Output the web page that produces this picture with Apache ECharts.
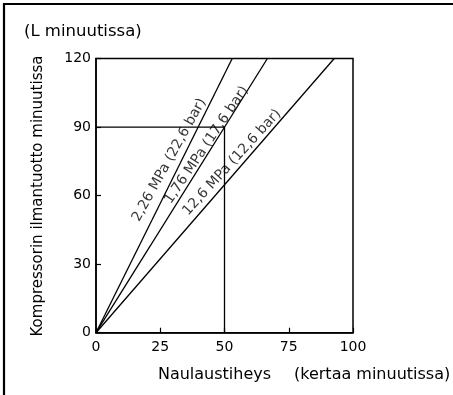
<!DOCTYPE html>
<html>
<head>
<meta charset="utf-8">
<script src="https://cdn.jsdelivr.net/npm/echarts@6/dist/echarts.min.js"></script>
<style>
  html, body { margin: 0; padding: 0; background: #fff; }
  #chart { width: 453px; height: 395px; }
</style>
</head>
<body>
<div id="chart"></div>
<script>
// Nailing rate (times per minute) vs. compressor air delivery (L per minute)
const pressureLabels = ['2,26 MPa (22,6 bar)', '1,76 MPa (17,6 bar)', '12,6 MPa (12,6 bar)'];
// each pressure line: start and end point [nails/min, L/min]
const line226 = [[0, 0], [53, 120]];
const line176 = [[0, 0], [66.7, 120]];
const line126 = [[0, 0], [92.7, 120]];
// reading example: 50 nails/min at 1,76 MPa needs 90 L/min
const exampleGuide = [[0, 90], [50, 90], [50, 0]];
// label anchor points (data coords) and angles for the pressure captions
const labelAnchors = [[28.5, 75.6], [43.0, 82.1], [52.9, 74.5]];
const labelAngles = [61, 56, 47.5];

const xTicks = [0, 25, 50, 75, 100];
const yTicks = [0, 30, 60, 90, 120];

const yTitle = 'Kompressorin ilmantuotto minuutissa';
const yUnit = '(L minuutissa)';
const xTitle = 'Naulaustiheys';
const xUnit = '(kertaa minuutissa)';

const FONT = 'DejaVu Sans';
const chart = echarts.init(document.getElementById('chart'), null, { renderer: 'canvas' });

const lineStyle = { color: '#000', width: 1.3 };
const lineSeries = [line226, line176, line126].map(function (d) {
  return {
    type: 'line', data: d, symbol: 'none', silent: true,
    lineStyle: lineStyle, z: 3
  };
});

chart.setOption({
  animation: false,
  backgroundColor: '#fff',
  grid: {
    left: 96, right: 100, top: 58.5, bottom: 62.3,
    show: true, borderColor: '#000', borderWidth: 1.5, backgroundColor: 'transparent'
  },
  xAxis: {
    type: 'value', min: xTicks[0], max: xTicks[xTicks.length - 1], interval: 25,
    axisLine: { show: true, lineStyle: { color: '#000', width: 1.5 } },
    axisTick: { show: true, inside: true, length: 5, lineStyle: { color: '#000', width: 1.2 } },
    axisLabel: { color: '#000', fontFamily: FONT, fontSize: 14, margin: 8 },
    splitLine: { show: false }
  },
  yAxis: {
    type: 'value', min: yTicks[0], max: yTicks[yTicks.length - 1], interval: 30,
    axisLine: { show: true, lineStyle: { color: '#000', width: 1.5 } },
    axisTick: { show: true, inside: true, length: 5, lineStyle: { color: '#000', width: 1.2 } },
    axisLabel: { color: '#000', fontFamily: FONT, fontSize: 14, margin: 5 },
    splitLine: { show: false }
  },
  series: lineSeries.concat([
    {
      type: 'line', data: exampleGuide, symbol: 'none', silent: true,
      lineStyle: lineStyle, z: 2
    },
    {
      type: 'scatter', silent: true, symbolSize: 0, z: 4,
      data: labelAnchors.map(function (p, i) {
        return {
          value: p,
          label: {
            show: true, position: 'inside', formatter: pressureLabels[i],
            rotate: labelAngles[i], color: '#000', fontFamily: FONT, fontSize: 14,
            align: 'center', verticalAlign: 'middle'
          }
        };
      })
    }
  ]),
  graphic: [
    { type: 'line', shape: { x1: 4, y1: 3, x2: 4, y2: 395 }, style: { stroke: '#000', lineWidth: 2.2 } },
    { type: 'line', shape: { x1: 3, y1: 4, x2: 453, y2: 4 }, style: { stroke: '#000', lineWidth: 2.2 } },
    { type: 'text', left: 24, top: 23, style: { text: yUnit, fill: '#000', font: '16.5px "' + FONT + '"' } },
    {
      type: 'text', x: 38.5, y: 196, rotation: Math.PI / 2,
      style: { text: yTitle, fill: '#000', font: '15px "' + FONT + '"', align: 'center', verticalAlign: 'middle' }
    },
    {
      type: 'text', x: 214.5, y: 375,
      style: { text: xTitle, fill: '#000', font: '16px "' + FONT + '"', align: 'center', verticalAlign: 'middle' }
    },
    {
      type: 'text', x: 294, y: 375,
      style: { text: xUnit, fill: '#000', font: '16px "' + FONT + '"', align: 'left', verticalAlign: 'middle' }
    }
  ]
});
</script>
</body>
</html>
